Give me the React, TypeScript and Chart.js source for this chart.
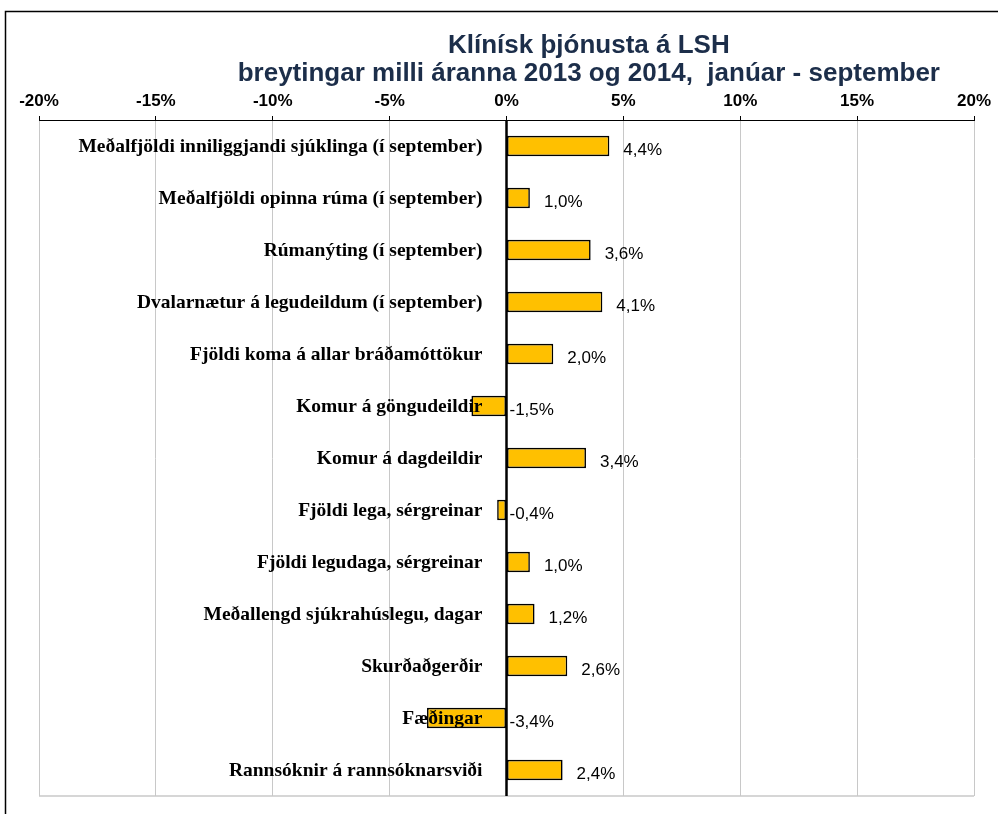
import React, { useEffect, useRef } from "react";
import { Chart, registerables } from "chart.js";

Chart.register(...registerables);

const categories: string[] = [
  "Meðalfjöldi inniliggjandi sjúklinga (í september)",
  "Meðalfjöldi opinna rúma (í september)",
  "Rúmanýting (í september)",
  "Dvalarnætur á legudeildum (í september)",
  "Fjöldi koma á allar bráðamóttökur",
  "Komur á göngudeildir",
  "Komur á dagdeildir",
  "Fjöldi lega, sérgreinar",
  "Fjöldi legudaga, sérgreinar",
  "Meðallengd sjúkrahúslegu, dagar",
  "Skurðaðgerðir",
  "Fæðingar",
  "Rannsóknir á rannsóknarsviði",
];

const changePct: number[] = [4.4, 1.0, 3.6, 4.1, 2.0, -1.5, 3.4, -0.4, 1.0, 1.2, 2.6, -3.4, 2.4];

const titleLines: string[] = [
  "Klínísk þjónusta á LSH",
  "breytingar milli áranna 2013 og 2014,  janúar - september",
];

const axisMin = -20;
const axisMax = 20;
const axisStep = 5;

const fmt = (v: number) => v.toFixed(1).replace(".", ",") + "%";

const decorPlugin = {
  id: "decor",
  beforeDraw(chart: any) {
    const ctx = chart.ctx;
    ctx.save();
    ctx.fillStyle = "#ffffff";
    ctx.fillRect(0, 0, chart.width, chart.height);
    // outer frame
    ctx.strokeStyle = "#000";
    ctx.lineWidth = 1.5;
    ctx.strokeRect(5.5, 11.5, chart.width + 10, chart.height + 10);
    // title
    ctx.fillStyle = "#1c2e4a";
    ctx.font = "bold 26px Arial, 'Liberation Sans', sans-serif";
    ctx.textAlign = "center";
    ctx.textBaseline = "alphabetic";
    const cx = chart.width * 0.59;
    ctx.fillText(titleLines[0], cx, 53);
    ctx.fillText(titleLines[1], cx, 81);
    ctx.restore();
  },
  afterDatasetsDraw(chart: any) {
    const ctx = chart.ctx;
    const xs = chart.scales.x;
    const ys = chart.scales.y;
    const area = chart.chartArea;
    const zero = xs.getPixelForValue(0);
    ctx.save();
    // bottom border
    ctx.strokeStyle = "#c8c8c8";
    ctx.lineWidth = 1.5;
    ctx.beginPath();
    ctx.moveTo(area.left, area.bottom);
    ctx.lineTo(area.right, area.bottom);
    ctx.stroke();
    // zero line
    ctx.strokeStyle = "#000";
    ctx.lineWidth = 2.5;
    ctx.beginPath();
    ctx.moveTo(zero, area.top);
    ctx.lineTo(zero, area.bottom);
    ctx.stroke();
    // category labels
    ctx.fillStyle = "#000";
    ctx.font = "bold 19.5px 'Times New Roman', 'Liberation Serif', serif";
    ctx.textAlign = "right";
    ctx.textBaseline = "middle";
    categories.forEach((c, i) => {
      const y = ys.getPixelForValue(i) + 1;
      ctx.fillText(c, zero - 24, y);
    });
    // data labels
    ctx.font = "17px Arial, 'Liberation Sans', sans-serif";
    ctx.textAlign = "left";
    changePct.forEach((v, i) => {
      const y = ys.getPixelForValue(i) + 4;
      const x = v >= 0 ? xs.getPixelForValue(v) + 14 : zero + 3;
      ctx.fillText(fmt(v), x, y);
    });
    ctx.restore();
  },
};

export default function App() {
  const ref = useRef<HTMLCanvasElement | null>(null);
  useEffect(() => {
    if (!ref.current) return;
    const chart = new Chart(ref.current, {
      type: "bar",
      data: {
        labels: categories,
        datasets: [
          {
            data: changePct,
            backgroundColor: "#FFC000",
            borderColor: "#000",
            borderWidth: 1.6,
            borderSkipped: false,
            barPercentage: 0.78,
            categoryPercentage: 0.5,
          },
        ],
      },
      options: {
        indexAxis: "y",
        animation: false,
        responsive: false,
        maintainAspectRatio: false,
        layout: { padding: { left: 39, right: 24, bottom: 18, top: 86 } },
        plugins: { legend: { display: false }, tooltip: { enabled: false }, title: { display: false } },
        scales: {
          x: {
            position: "top",
            min: axisMin,
            max: axisMax,
            ticks: {
              stepSize: axisStep,
              callback: (v: any) => `${v}%`,
              color: "#000",
              font: { family: "Arial, 'Liberation Sans', sans-serif", size: 17, weight: "bold" },
              padding: 4,
              maxRotation: 0,
            },
            grid: {
              color: "#c8c8c8",
              lineWidth: 1,
              tickColor: "#000",
              tickLength: 4,
              drawOnChartArea: true,
            },
            border: { display: true, color: "#000", width: 1 },
            afterFit: (s: any) => {
              s.height = 34;
            },
          },
          y: {
            display: false,
            offset: true,
          },
        },
      },
      plugins: [decorPlugin],
    } as any);
    return () => chart.destroy();
  }, []);
  return (
    <div style={{ position: "absolute", left: 0, top: 0, width: 998, height: 814, overflow: "hidden" }}>
      <canvas ref={ref} width={998} height={814} style={{ display: "block" }} />
    </div>
  );
}
